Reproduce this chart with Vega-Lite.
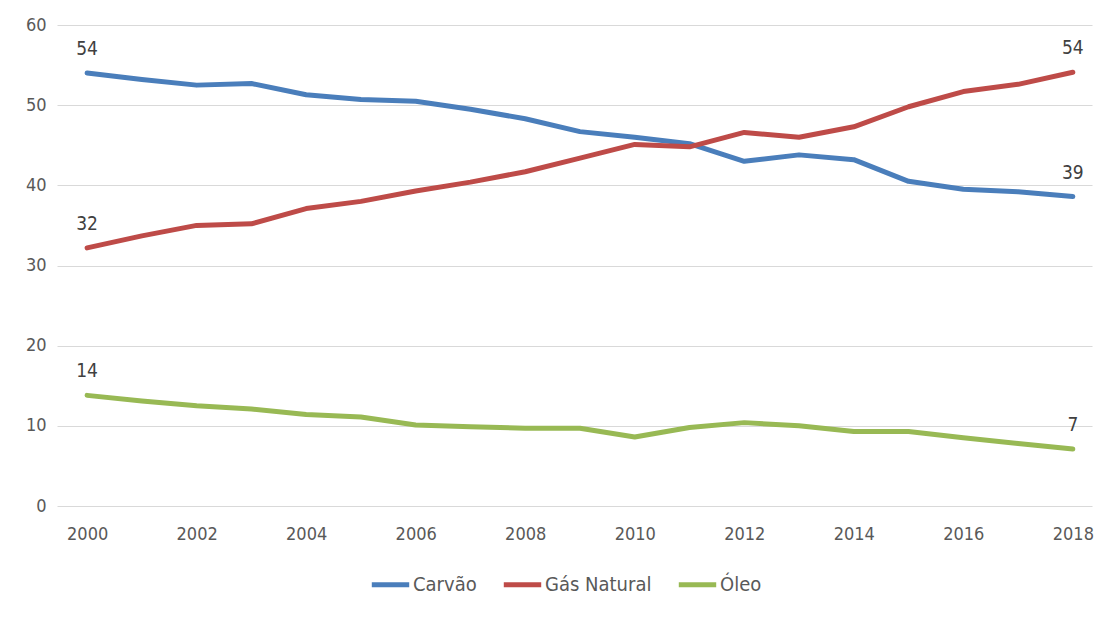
{
  "$schema": "https://vega.github.io/schema/vega-lite/v6.json",
  "width": 1035,
  "height": 481,
  "autosize": {"type": "none"},
  "padding": {"left": 57, "top": 25, "right": 8, "bottom": 111},
  "background": "white",
  "config": {
    "view": {"stroke": null},
    "font": "DejaVu Sans Condensed, Liberation Sans, sans-serif",
    "axis": {"labelFont": "DejaVu Sans Condensed, Liberation Sans, sans-serif", "labelFontSize": 18, "labelColor": "#595959", "domain": false, "ticks": false, "title": null},
    "legend": {"labelFont": "DejaVu Sans Condensed, Liberation Sans, sans-serif", "labelFontSize": 20, "labelColor": "#595959"}
  },
  "data": {
    "values": [
      {"year": 2000, "fuel": "Carvão", "value": 54.0},
      {"year": 2001, "fuel": "Carvão", "value": 53.2},
      {"year": 2002, "fuel": "Carvão", "value": 52.5},
      {"year": 2003, "fuel": "Carvão", "value": 52.7},
      {"year": 2004, "fuel": "Carvão", "value": 51.3},
      {"year": 2005, "fuel": "Carvão", "value": 50.7},
      {"year": 2006, "fuel": "Carvão", "value": 50.5},
      {"year": 2007, "fuel": "Carvão", "value": 49.5},
      {"year": 2008, "fuel": "Carvão", "value": 48.3},
      {"year": 2009, "fuel": "Carvão", "value": 46.7},
      {"year": 2010, "fuel": "Carvão", "value": 46.0},
      {"year": 2011, "fuel": "Carvão", "value": 45.2},
      {"year": 2012, "fuel": "Carvão", "value": 43.0},
      {"year": 2013, "fuel": "Carvão", "value": 43.8},
      {"year": 2014, "fuel": "Carvão", "value": 43.2},
      {"year": 2015, "fuel": "Carvão", "value": 40.5},
      {"year": 2016, "fuel": "Carvão", "value": 39.5},
      {"year": 2017, "fuel": "Carvão", "value": 39.2},
      {"year": 2018, "fuel": "Carvão", "value": 38.6},
      {"year": 2000, "fuel": "Gás Natural", "value": 32.2},
      {"year": 2001, "fuel": "Gás Natural", "value": 33.7},
      {"year": 2002, "fuel": "Gás Natural", "value": 35.0},
      {"year": 2003, "fuel": "Gás Natural", "value": 35.2},
      {"year": 2004, "fuel": "Gás Natural", "value": 37.1},
      {"year": 2005, "fuel": "Gás Natural", "value": 38.0},
      {"year": 2006, "fuel": "Gás Natural", "value": 39.3},
      {"year": 2007, "fuel": "Gás Natural", "value": 40.4},
      {"year": 2008, "fuel": "Gás Natural", "value": 41.7},
      {"year": 2009, "fuel": "Gás Natural", "value": 43.4},
      {"year": 2010, "fuel": "Gás Natural", "value": 45.1},
      {"year": 2011, "fuel": "Gás Natural", "value": 44.8},
      {"year": 2012, "fuel": "Gás Natural", "value": 46.6},
      {"year": 2013, "fuel": "Gás Natural", "value": 46.0},
      {"year": 2014, "fuel": "Gás Natural", "value": 47.3},
      {"year": 2015, "fuel": "Gás Natural", "value": 49.8},
      {"year": 2016, "fuel": "Gás Natural", "value": 51.7},
      {"year": 2017, "fuel": "Gás Natural", "value": 52.6},
      {"year": 2018, "fuel": "Gás Natural", "value": 54.1},
      {"year": 2000, "fuel": "Óleo", "value": 13.8},
      {"year": 2001, "fuel": "Óleo", "value": 13.1},
      {"year": 2002, "fuel": "Óleo", "value": 12.5},
      {"year": 2003, "fuel": "Óleo", "value": 12.1},
      {"year": 2004, "fuel": "Óleo", "value": 11.4},
      {"year": 2005, "fuel": "Óleo", "value": 11.1},
      {"year": 2006, "fuel": "Óleo", "value": 10.1},
      {"year": 2007, "fuel": "Óleo", "value": 9.9},
      {"year": 2008, "fuel": "Óleo", "value": 9.7},
      {"year": 2009, "fuel": "Óleo", "value": 9.7},
      {"year": 2010, "fuel": "Óleo", "value": 8.6},
      {"year": 2011, "fuel": "Óleo", "value": 9.8},
      {"year": 2012, "fuel": "Óleo", "value": 10.4},
      {"year": 2013, "fuel": "Óleo", "value": 10.0},
      {"year": 2014, "fuel": "Óleo", "value": 9.3},
      {"year": 2015, "fuel": "Óleo", "value": 9.3},
      {"year": 2016, "fuel": "Óleo", "value": 8.5},
      {"year": 2017, "fuel": "Óleo", "value": 7.8},
      {"year": 2018, "fuel": "Óleo", "value": 7.1}
    ]
  },
  "encoding": {
    "x": {
      "field": "year", "type": "quantitative",
      "scale": {"domain": [1999.45, 2018.35], "nice": false, "zero": false},
      "axis": {"values": [2000, 2002, 2004, 2006, 2008, 2010, 2012, 2014, 2016, 2018], "format": "d", "grid": false, "labelPadding": 19}
    },
    "y": {
      "field": "value", "type": "quantitative",
      "scale": {"domain": [0, 60], "nice": false},
      "axis": {"values": [0, 10, 20, 30, 40, 50, 60], "grid": true, "gridColor": "#d9d9d9", "gridWidth": 1, "labelPadding": 11}
    }
  },
  "layer": [
    {
      "mark": {"type": "line", "strokeWidth": 5, "strokeCap": "round", "strokeJoin": "round"},
      "encoding": {
        "color": {
          "field": "fuel", "type": "nominal",
          "scale": {"domain": ["Carvão", "Gás Natural", "Óleo"], "range": ["#4a7ebb", "#be4b48", "#98b954"]},
          "legend": {
            "title": null, "orient": "none", "direction": "horizontal",
            "legendX": 312, "legendY": 538,
            "symbolType": "stroke", "symbolStrokeWidth": 5, "symbolSize": 1400,
            "columnPadding": 16, "labelOffset": 1
          }
        }
      }
    },
    {
      "transform": [{"filter": "datum.year == 2000 || datum.year == 2018"}],
      "mark": {"type": "text", "dy": -24, "fontSize": 19, "color": "#404040", "font": "DejaVu Sans Condensed, Liberation Sans, sans-serif"},
      "encoding": {
        "text": {"field": "value", "type": "quantitative", "format": ".0f"}
      }
    }
  ]
}
